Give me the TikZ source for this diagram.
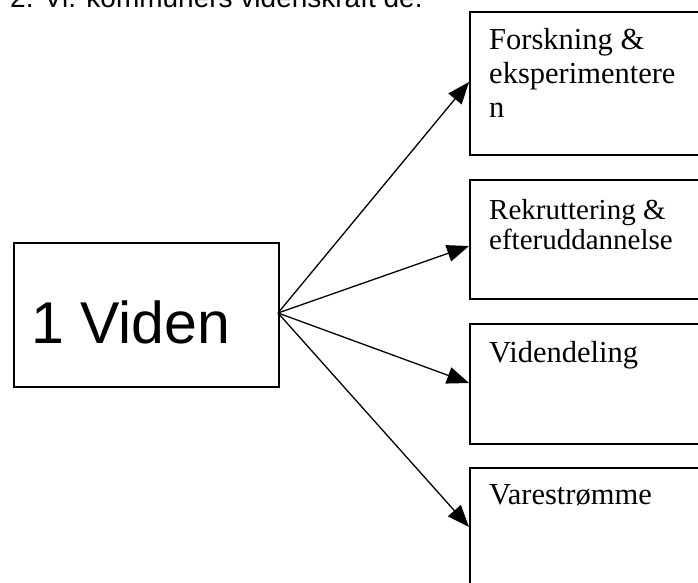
\documentclass[tikz,border=0pt]{standalone}
\usepackage{fontspec}
\setmainfont{Liberation Serif}
\newfontfamily\headsans{Liberation Sans}
\usetikzlibrary{arrows.meta}
\tikzset{
  x=1pt, y=-1pt,
  boxframe/.style={draw, line width=2pt, rectangle, inner sep=0pt, anchor=north west},
  boxtext/.style={anchor=base west, align=left, inner sep=0pt,
                  font=\fontsize{30.5}{34}\selectfont},
  fanarrow/.style={line width=1.3pt, -{Triangle[length=22pt, width=17pt]}},
}
\begin{document}
\begin{tikzpicture}
  \useasboundingbox (0,0) rectangle (698,582);
  \clip (0,0) rectangle (698,582);
  \fill[white] (0,0) rectangle (698,582);

  % heading line, only its lower part lies on the page
  \node[anchor=base west, inner sep=0pt, font=\headsans\fontsize{28}{32}\selectfont]
    (head) at (10,7) {2. Vi. kommuners videnskraft de.};

  % source box
  \node[boxframe, minimum width=265pt, minimum height=144pt] (viden) at (13,242) {};
  \node[anchor=base west, inner sep=0pt, font=\headsans\fontsize{59}{66}\selectfont]
    (videntext) at (31,343) {1 Viden};
  \coordinate (hub) at (278,313);

  % target boxes (they run past the right edge)
  \node[boxframe, minimum width=260pt, minimum height=143pt] (f1) at (469,11) {};
  \node[boxframe, minimum width=260pt, minimum height=119pt] (f2) at (469,179) {};
  \node[boxframe, minimum width=260pt, minimum height=120pt] (f3) at (469,323) {};
  \node[boxframe, minimum width=260pt, minimum height=140pt] (f4) at (469,467) {};

  % multi-line labels are placed by the baseline of their last line
  \node[boxtext] (t1) at (489,117) {Forskning \&\\eksperimentere\\n};
  \node[boxtext, font=\fontsize{29}{30}\selectfont] (t2) at (489,249)
    {Rekruttering \&\\efteruddannelse};
  \node[boxtext] (t3) at (489,362) {Videndeling};
  \node[boxtext] (t4) at (489,504) {Varestrømme};

  % connectors fanning out from the source box
  \coordinate (e1) at (469,82);
  \coordinate (e2) at (469,246);
  \coordinate (e3) at (469,383);
  \coordinate (e4) at (469,527);
  \foreach \e in {e1,e2,e3,e4}
    \draw[fanarrow] (hub) -- (\e);
\end{tikzpicture}
\end{document}
